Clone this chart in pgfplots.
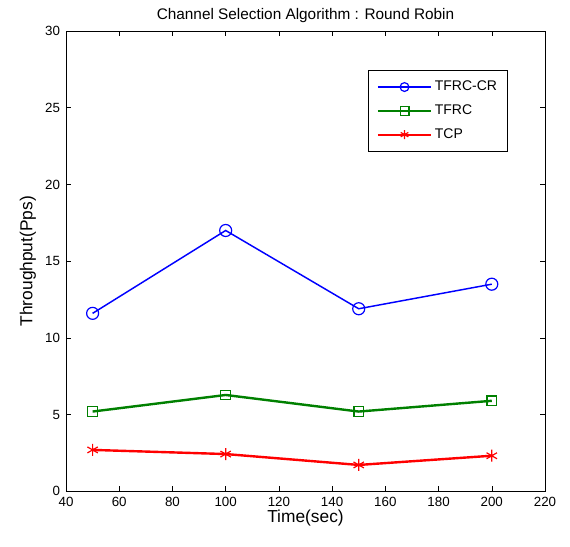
\documentclass[border=0pt]{standalone}
\usepackage{fontspec}
\setmainfont{Liberation Sans}
\usepackage{pgfplots}
\pgfplotsset{compat=1.18}
\definecolor{mblue}{RGB}{0,0,255}
\definecolor{mgreen}{RGB}{0,128,0}
\definecolor{mred}{RGB}{255,0,0}
\begin{document}
\begin{tikzpicture}
\begin{axis}[
  scale only axis,
  width=359pt, height=345pt,
  xmin=40, xmax=220, ymin=0, ymax=30,
  xtick={40,60,...,220}, ytick={0,5,...,30},
  tick align=inside,
  major tick length=4pt,
  tick style={black, line width=0.4pt},
  axis line style={line width=0.5pt},
  ticklabel style={font=\fontsize{10}{12}\selectfont},
  xticklabel style={yshift=-0.5pt},
  yticklabel style={xshift=-1pt},
  /pgf/number format/assume math mode=true,
  title={Channel Selection Algorithm : Round Robin},
  title style={font=\fontsize{11.5}{13}\selectfont, yshift=-3pt},
  xlabel={Time(sec)},
  ylabel={Throughput(Pps)},
  label style={font=\fontsize{13}{14}\selectfont},
  xlabel style={yshift=4pt},
  ylabel style={yshift=0pt},
  legend style={at={(0.923,0.915)}, anchor=north east,
    font=\fontsize{10.5}{12}\selectfont, draw=black, line width=0.5pt,
    inner xsep=6pt, inner ysep=6pt, row sep=5pt},
  legend cell align=left,
  legend image code/.code={%
    \draw[mark repeat=2, mark phase=2]
      plot coordinates {(0pt,0pt) (20pt,0pt) (40pt,0pt)};},
  legend image post style={line width=1.5pt, mark size=3.3pt},
  clip=false,
]
\addplot[mblue, line width=1.1pt, mark=o, mark size=4.5pt, mark options={line width=0.9pt}]
  coordinates {(50,11.6) (100,17.0) (150,11.9) (200,13.5)};
\addplot[mgreen, line width=1.8pt, mark=square, mark size=3.6pt, mark options={line width=0.9pt}]
  coordinates {(50,5.2) (100,6.28) (150,5.2) (200,5.9)};
\addplot[mred, line width=1.8pt, mark=asterisk, mark size=4.5pt, mark options={line width=0.9pt}]
  coordinates {(50,2.7) (100,2.43) (150,1.72) (200,2.32)};
\legend{TFRC-CR, TFRC, TCP}
\path (rel axis cs:-0.1378,-0.1196) rectangle (rel axis cs:1.0522,1.0674);
\end{axis}
\end{tikzpicture}
\end{document}
